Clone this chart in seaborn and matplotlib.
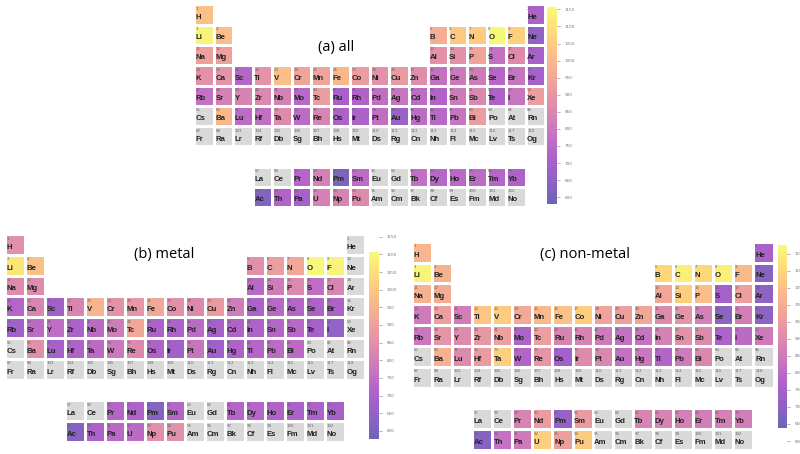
import numpy as np
import matplotlib
matplotlib.use("Agg")
import matplotlib.pyplot as plt
from matplotlib.colors import ListedColormap
import seaborn as sns

nan = np.nan

symbols = ["H", "He",
           "Li", "Be", "B", "C", "N", "O", "F", "Ne",
           "Na", "Mg", "Al", "Si", "P", "S", "Cl", "Ar",
           "K", "Ca", "Sc", "Ti", "V", "Cr", "Mn", "Fe", "Co", "Ni", "Cu", "Zn", "Ga", "Ge", "As", "Se", "Br", "Kr",
           "Rb", "Sr", "Y", "Zr", "Nb", "Mo", "Tc", "Ru", "Rh", "Pd", "Ag", "Cd", "In", "Sn", "Sb", "Te", "I", "Xe",
           "Cs", "Ba", "La", "Ce", "Pr", "Nd", "Pm", "Sm", "Eu", "Gd", "Tb", "Dy", "Ho", "Er", "Tm", "Yb",
           "Lu", "Hf", "Ta", "W", "Re", "Os", "Ir", "Pt", "Au", "Hg", "Tl", "Pb", "Bi", "Po", "At", "Rn",
           "Fr", "Ra", "Ac", "Th", "Pa", "U", "Np", "Pu", "Am", "Cm", "Bk", "Cf", "Es", "Fm", "Md", "No",
           "Lr", "Rf", "Db", "Sg", "Bh", "Hs", "Mt", "Ds", "Rg", "Cn", "Nh", "Fl", "Mc", "Lv", "Ts", "Og"]

# values per element (atomic number order), nan = no data (grey cell)
vals_all = [1020, 720,
            1140, 1010, 970, 1040, 1050, 1150, 1060, 660,
            930, 930, 880, 880, 940, 780, 860, 700,
            880, 890, 740, 890, 1010, 940, 940, 1000, 920, 880, 910, 870, 780, 800, 810, 740, 790, 700,
            780, 830, 840, 850, 830, 750, 920, 710, 730, 770, 790, 760, 730, 810, 850, 720, 790, 920,
            nan, 1000, nan, nan, 740, 830, 610, 760, nan, nan, 770, 740, 750, 760, 740, 720,
            760, 770, 860, 760, 840, 720, 720, 770, 680, 760, 750, 790, 920, nan, nan, nan,
            nan, nan, 620, 730, 700, 830, 840, 860, nan, nan, nan, nan, nan, nan, nan, nan,
            nan, nan, nan, nan, nan, nan, nan, nan, nan, nan, nan, nan, nan, nan, nan, nan]

vals_metal = [850, nan,
              1060, 980, 850, 890, 920, 1100, 1090, nan,
              840, 840, 730, 790, 830, 750, 820, nan,
              720, 820, 680, 820, 950, 860, 870, 920, 850, 830, 880, 790, 700, 730, 720, 700, 700, nan,
              680, 740, 750, 700, 740, 790, 920, 700, 700, 740, 690, 710, 710, 720, 730, 690, 650, nan,
              nan, 850, nan, nan, 720, 710, 620, 720, nan, nan, 720, 720, 710, 700, 700, 690,
              690, 710, 740, 780, 830, 710, 680, 770, 680, 710, 720, 740, 740, nan, nan, nan,
              nan, nan, 620, 700, 730, 740, 850, 850, nan, nan, nan, nan, nan, nan, nan, nan,
              nan, nan, nan, nan, nan, nan, nan, nan, nan, nan, nan, nan, nan, nan, nan, nan]

vals_nonmetal = [1020, 760,
                 1160, 1010, 1100, 1150, 1100, 1150, 1030, 690,
                 1010, 1000, 980, 1080, 1040, 750, 960, 700,
                 850, 960, 860, 1060, 1070, 990, 1030, 1050, 1080, 970, 960, 980, 900, 930, 870, 700, 860, 700,
                 840, 930, 900, 940, 960, 770, 960, 880, 880, 850, 820, 830, 870, 920, 900, 770, 800, 850,
                 nan, 1010, nan, nan, 880, 950, 720, 950, nan, nan, 880, 880, 870, 860, 870, 860,
                 900, 950, 1080, 780, 930, 740, 900, 890, 820, 840, 780, 850, 890, nan, nan, nan,
                 nan, nan, 680, 820, 850, 1080, 960, 1070, nan, nan, nan, nan, nan, nan, nan, nan,
                 nan, nan, nan, nan, nan, nan, nan, nan, nan, nan, nan, nan, nan, nan, nan, nan]

titles = ["(a) all", "(b) metal", "(c) non-metal"]


def cell(z):
    # row / column of an element in the 10 x 18 display grid
    if z == 1:
        return 0, 0
    if z == 2:
        return 0, 17
    if z <= 18:
        start = 3 if z <= 10 else 11
        r = 1 if z <= 10 else 2
        k = z - start
        return r, (k if k < 2 else k + 10)
    if z <= 54:
        start = 19 if z <= 36 else 37
        return (3 if z <= 36 else 4), z - start
    start = 55 if z <= 86 else 87
    r = 5 if z <= 86 else 6
    k = z - start
    if k < 2:
        return r, k
    if k < 16:
        return r + 3, k + 1
    return r, k - 14


base = plt.get_cmap("plasma")(np.linspace(0, 1, 256))
cmap = ListedColormap(base[:, :3] * 0.62 + 0.38)
grey = ListedColormap(["#d9d9d9"])

fig = plt.figure(figsize=(8, 4.54), dpi=100)

panels = [
    (vals_all, [0.2429, 0.5434, 0.4384, 0.4471], [0.6841, 0.5507, 0.0117, 0.4332], 580, 1156, (7.27, 2.15)),
    (vals_metal, [0.00625, 0.0264, 0.45, 0.4581], [0.4616, 0.0324, 0.0121, 0.4462], 576, 1107, (7.95, 0.96)),
    (vals_nonmetal, [0.5146, 0.0088, 0.4524, 0.4588], [0.9729, 0.0286, 0.0105, 0.4318], 637, 1175, (8.6, 0.6)),
]

for (vals, pos, cpos, vmin, vmax, tpos), title in zip(panels, titles):
    ax = fig.add_axes(pos)
    cax = fig.add_axes(cpos)
    data = np.full((10, 18), nan)
    blank = np.full((10, 18), nan)
    for z, v in enumerate(vals, start=1):
        r, c = cell(z)
        if np.isnan(v):
            blank[r, c] = 1
        else:
            data[r, c] = v

    sns.heatmap(blank, ax=ax, cmap=grey, cbar=False, linewidths=1, linecolor="white",
                xticklabels=False, yticklabels=False)
    sns.heatmap(data, ax=ax, cmap=cmap, vmin=vmin, vmax=vmax, cbar_ax=cax,
                linewidths=1, linecolor="white", xticklabels=False, yticklabels=False)

    for z, sym in enumerate(symbols, start=1):
        r, c = cell(z)
        ax.text(c + 0.08, r + 0.22, str(z), fontsize=2.8, color="#666666", va="center", ha="left")
        ax.text(c + 0.08, r + 0.64, sym, fontsize=5.6, color="#222222", weight="bold",
                family="Liberation Sans", va="center", ha="left")

    ax.text(tpos[0], tpos[1], title, fontsize=10.5, family="Open Sans", ha="center", va="center")

    cb = ax.collections[-1].colorbar
    cb.outline.set_visible(False)
    cb.set_ticks(np.arange(600, 1151, 50))
    cax.tick_params(labelsize=3, colors="#777777", length=2, width=0.4)

fig.savefig("out.png", dpi=100, facecolor="white")
